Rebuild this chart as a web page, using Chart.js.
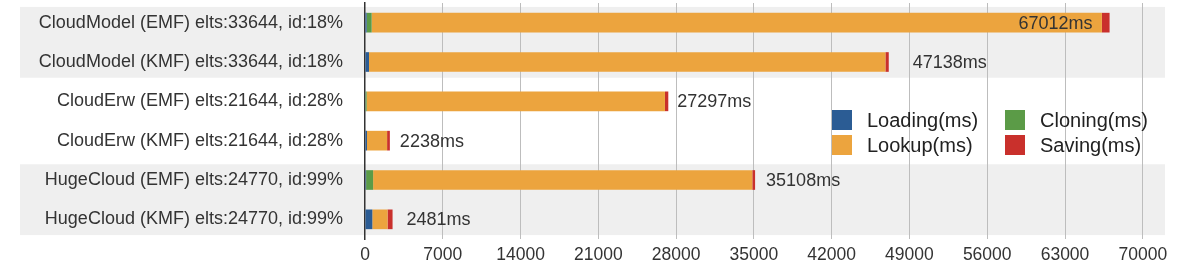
<!DOCTYPE html>
<html>
<head>
<meta charset="utf-8">
<script src="https://cdn.jsdelivr.net/npm/chart.js@4.4.1/dist/chart.umd.min.js"></script>
<style>
  html, body { margin: 0; padding: 0; background: #ffffff; }
  #wrap { width: 1182px; height: 266px; position: relative; }
</style>
</head>
<body>
<div id="wrap"><canvas id="c"></canvas></div>
<script>
// ---- data ----
const categories = [
  'CloudModel (EMF) elts:33644, id:18%',
  'CloudModel (KMF) elts:33644, id:18%',
  'CloudErw (EMF) elts:21644, id:28%',
  'CloudErw (KMF) elts:21644, id:28%',
  'HugeCloud (EMF) elts:24770, id:99%',
  'HugeCloud (KMF) elts:24770, id:99%'
];
const loadingMs = [150, 360, 50, 180, 100, 660];
const cloningMs = [450, 0, 100, 0, 630, 0];
const lookupMs  = [65722, 46478, 26847, 1808, 34128, 1371];
const savingMs  = [690, 300, 300, 250, 250, 450];
const totalMs   = [67012, 47138, 27297, 2238, 35108, 2481];
const xTicks    = [0, 7000, 14000, 21000, 28000, 35000, 42000, 49000, 56000, 63000, 70000];
const seriesNames = ['Loading(ms)', 'Cloning(ms)', 'Lookup(ms)', 'Saving(ms)'];

const FONT = "'Liberation Sans', Arial, Helvetica, sans-serif";
const colors = ['#2b5c94', '#5b9b47', '#eca43e', '#c9302c'];

// gray row bands (pairs of categories)
const bandPlugin = {
  id: 'bands',
  beforeDraw(chart) {
    const { ctx, chartArea, scales } = chart;
    const y = scales.y;
    const h = (y.getPixelForValue(1) - y.getPixelForValue(0));
    const bands = [[0, 1], [4, 5]];
    ctx.save();
    ctx.fillStyle = '#efefef';
    bands.forEach(([a, b]) => {
      const top = y.getPixelForValue(a) - 0.4 * h;
      const bot = y.getPixelForValue(b) + 0.4 * h;
      ctx.fillRect(20, top, chartArea.right - 20, bot - top);
    });
    ctx.restore();
  }
};

// total labels
const totalsPlugin = {
  id: 'totals',
  afterDatasetsDraw(chart, args, opts) {
    const { ctx, scales } = chart;
    const x = scales.x, y = scales.y;
    ctx.save();
    ctx.font = '18px ' + FONT;
    ctx.fillStyle = '#333333';
    ctx.textBaseline = 'middle';
    totalMs.forEach((t, i) => {
      const px = x.getPixelForValue(t);
      const py = y.getPixelForValue(i) + 1;
      const shift = opts.shift[i];
      ctx.textAlign = shift < 0 ? 'right' : 'left';
      ctx.fillText(t + 'ms', px + shift, py);
    });
    ctx.restore();
  }
};

// legend drawn inside the plot
const legendPlugin = {
  id: 'innerLegend',
  afterDraw(chart, args, opts) {
    const { ctx } = chart;
    ctx.save();
    ctx.font = '20px ' + FONT;
    ctx.textBaseline = 'middle';
    ctx.textAlign = 'left';
    chart.data.datasets.forEach((ds, i) => {
      const col = i % 2, row = Math.floor(i / 2);
      const bx = opts.x + col * opts.colW;
      const by = opts.y + row * opts.rowH;
      ctx.fillStyle = ds.backgroundColor;
      ctx.fillRect(bx, by, opts.box, opts.box);
      ctx.fillStyle = '#222222';
      ctx.fillText(ds.label, bx + 35, by + opts.box / 2 + 1);
    });
    ctx.restore();
  }
};

const seriesData = [loadingMs, cloningMs, lookupMs, savingMs];

new Chart(document.getElementById('c'), {
  type: 'bar',
  data: {
    labels: categories,
    datasets: seriesNames.map((n, i) => ({
      label: n,
      data: seriesData[i],
      backgroundColor: colors[i],
      borderWidth: 0,
      barPercentage: 0.5,
      categoryPercentage: 1.0
    }))
  },
  options: {
    indexAxis: 'y',
    responsive: true,
    maintainAspectRatio: false,
    animation: false,
    devicePixelRatio: 1,
    layout: { padding: { top: 3, right: 17, left: 0, bottom: 0 } },
    plugins: {
      legend: { display: false },
      tooltip: { enabled: false },
      totals: { shift: [-17, 24, 9, 10, 11, 14] },
      innerLegend: { x: 832, y: 110, colW: 173, rowH: 25, box: 20 }
    },
    scales: {
      x: {
        stacked: true,
        min: 0,
        max: 72000,
        afterBuildTicks(scale) { scale.ticks = xTicks.map(v => ({ value: v })); },
        afterFit(scale) { scale.height = 27; },
        border: { display: false },
        grid: {
          drawTicks: true,
          tickLength: 7,
          tickColor: 'rgba(0,0,0,0)',
          color: ctx => (ctx.tick && ctx.tick.value === 0) ? 'rgba(0,0,0,0)' : '#bdbdbd',
          lineWidth: 1
        },
        ticks: {
          padding: 0,
          color: '#333333',
          font: { family: FONT, size: 17.5, lineHeight: 1 },
          maxRotation: 0,
          autoSkip: false,
          callback: v => String(v)
        }
      },
      y: {
        stacked: true,
        afterFit(scale) { scale.width = 365; },
        border: { display: true, color: '#333333', width: 1.5 },
        grid: {
          display: true,
          drawOnChartArea: false,
          drawTicks: true,
          tickLength: 22,
          color: 'rgba(0,0,0,0)',
          tickColor: 'rgba(0,0,0,0)'
        },
        ticks: {
          padding: 0,
          color: '#333333',
          font: { family: FONT, size: 18, lineHeight: 0.2 },
          autoSkip: false
        }
      }
    }
  },
  plugins: [bandPlugin, totalsPlugin, legendPlugin]
});
</script>
</body>
</html>
